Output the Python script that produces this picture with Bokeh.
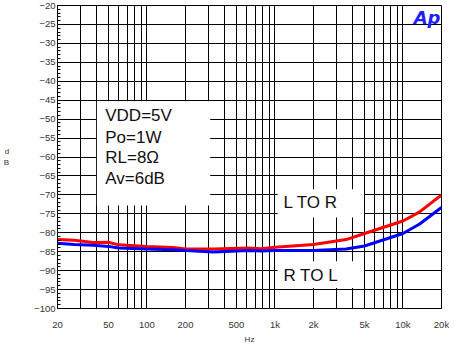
from bokeh.plotting import figure
from bokeh.models import FixedTicker, BoxAnnotation, Label
from bokeh.embed import file_html
from bokeh.resources import INLINE

# ---- data ----
freq = [20, 27, 38, 50, 60, 100, 160, 200, 330, 620, 780, 1000, 2000, 3600, 5000, 10000, 13500, 20000]
l_to_r = [-81.8, -82.0, -82.6, -82.5, -83.2, -83.6, -83.9, -84.3, -84.3, -84.0, -84.2, -83.8, -83.1, -81.8, -80.2, -76.9, -74.5, -70.0]
r_to_l = [-82.8, -83.1, -83.3, -83.6, -84.0, -84.3, -84.5, -84.7, -85.1, -84.7, -84.8, -84.7, -84.7, -84.3, -83.5, -80.2, -77.7, -73.3]

x_ticks = [20, 50, 100, 200, 500, 1000, 2000, 5000, 10000, 20000]
x_tick_labels = ["20", "50", "100", "200", "500", "1k", "2k", "5k", "10k", "20k"]
x_grid = [20, 30, 40, 50, 60, 70, 80, 90,
          100, 200, 300, 400, 500, 600, 700, 800, 900,
          1000, 2000, 3000, 4000, 5000, 6000, 7000, 8000, 9000,
          10000, 20000]
y_ticks = list(range(-100, -15, 5))
y_minor = list(range(-100, -19, 1))

cond_lines = ["VDD=5V", "Po=1W", "RL=8Ω", "Av=6dB"]
cond_y = [-49.0, -54.8, -60.2, -65.6]

FONT = "Liberation Sans"

p = figure(width=449, height=346, x_axis_type="log",
           x_range=(20, 20000), y_range=(-100, -20),
           output_backend="svg", toolbar_location=None,
           min_border_left=54, min_border_right=8,
           min_border_top=5, min_border_bottom=20,
           background_fill_color="white", border_fill_color="white")

p.outline_line_color = "black"
p.outline_line_width = 1
p.outline_line_alpha = 1

# grids
p.xgrid.ticker = FixedTicker(ticks=x_grid)
p.ygrid.ticker = FixedTicker(ticks=y_ticks)
for g in (p.xgrid, p.ygrid):
    g.grid_line_color = "black"
    g.grid_line_alpha = 1.0
    g.grid_line_width = 1

# x axis
p.xaxis.ticker = FixedTicker(ticks=x_ticks)
p.xaxis.major_label_overrides = {t: s for t, s in zip(x_ticks, x_tick_labels)}
p.xaxis.major_tick_line_color = None
p.xaxis.minor_tick_line_color = None
p.xaxis.axis_line_color = "black"
p.xaxis.major_label_standoff = 4
p.xaxis.axis_label = "Hz"
p.xaxis.axis_label_standoff = 2

# y axis
p.yaxis.ticker = FixedTicker(ticks=y_ticks, minor_ticks=y_minor)
p.yaxis.major_tick_in = 5
p.yaxis.major_tick_out = 0
p.yaxis.minor_tick_in = 3
p.yaxis.minor_tick_out = 0
p.yaxis.major_tick_line_color = "black"
p.yaxis.minor_tick_line_color = "black"
p.yaxis.axis_line_color = "black"
p.yaxis.major_label_standoff = 2
p.yaxis.axis_label = "d\nB"
p.yaxis.axis_label_orientation = "horizontal"
p.yaxis.axis_label_standoff = 22

for ax in (p.xaxis, p.yaxis):
    ax.major_label_text_font = FONT
    ax.major_label_text_font_size = "9.5px"
    ax.major_label_text_color = "#333333"
    ax.axis_label_text_font = FONT
    ax.axis_label_text_font_size = "8px"
    ax.axis_label_text_font_style = "normal"
    ax.axis_label_text_color = "#333333"

# data lines
p.line(freq, l_to_r, line_color="#ff0000", line_width=3)
p.line(freq, r_to_l, line_color="#0000ff", line_width=3)

# white text boxes
for (l, r, t, b) in [(40.6, 312, -45.3, -72.8), (1050, 4950, -68.5, -76.0), (1050, 4950, -87.5, -94.6)]:
    p.add_layout(BoxAnnotation(left=l, right=r, top=t, bottom=b,
                               fill_color="white", fill_alpha=1.0,
                               line_color=None, level="annotation"))

for txt, yy in zip(cond_lines, cond_y):
    p.add_layout(Label(x=47.2, y=yy, text=txt, text_font=FONT, text_font_size="17px",
                       text_color="#111111", text_baseline="middle", text_align="left"))

p.add_layout(Label(x=1164, y=-72.0, text="L TO R", text_font=FONT, text_font_size="17px",
                   text_color="#111111", text_baseline="middle", text_align="left"))
p.add_layout(Label(x=1164, y=-91.2, text="R TO L", text_font=FONT, text_font_size="17px",
                   text_color="#111111", text_baseline="middle", text_align="left"))

# Ap logo
p.add_layout(Label(x=20000, y=-20, text="Ap", text_font="DejaVu Sans", text_font_size="18px",
                   text_font_style="bold italic", text_color="#1f1fff",
                   text_align="right", text_baseline="top", x_offset=-1, y_offset=-1))

open("out.html", "w").write(file_html(p, INLINE))
